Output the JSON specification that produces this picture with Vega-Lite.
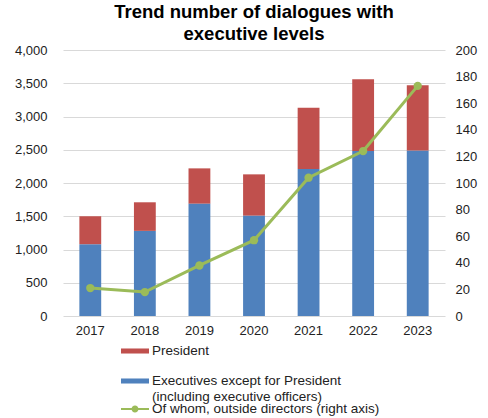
{
  "$schema": "https://vega.github.io/schema/vega-lite/v6.json",
  "autosize": {"type": "none"},
  "width": 382,
  "height": 266,
  "padding": {"left": 63, "top": 50, "right": 43, "bottom": 102},
  "background": "white",
  "title": {
    "text": ["Trend number of dialogues with", "executive levels"],
    "font": "Liberation Sans",
    "fontSize": 18.5,
    "fontWeight": "bold",
    "color": "#000000",
    "lineHeight": 21.5,
    "offset": 1,
    "anchor": "middle"
  },
  "config": {
    "view": {"stroke": null},
    "axis": {
      "labelFont": "Liberation Sans",
      "labelFontSize": 13,
      "labelColor": "#222222",
      "domain": false,
      "ticks": false,
      "title": null
    },
    "legend": {
      "labelFont": "Liberation Sans",
      "labelFontSize": 13.5,
      "labelColor": "#222222",
      "labelLimit": 400
    }
  },
  "datasets": {
    "bars": [
      {"year": "2017", "series": "Executives except for President", "value": 1080},
      {"year": "2017", "series": "President", "value": 420},
      {"year": "2018", "series": "Executives except for President", "value": 1280},
      {"year": "2018", "series": "President", "value": 430},
      {"year": "2019", "series": "Executives except for President", "value": 1690},
      {"year": "2019", "series": "President", "value": 530},
      {"year": "2020", "series": "Executives except for President", "value": 1510},
      {"year": "2020", "series": "President", "value": 620},
      {"year": "2021", "series": "Executives except for President", "value": 2210},
      {"year": "2021", "series": "President", "value": 920},
      {"year": "2022", "series": "Executives except for President", "value": 2480},
      {"year": "2022", "series": "President", "value": 1080},
      {"year": "2023", "series": "Executives except for President", "value": 2490},
      {"year": "2023", "series": "President", "value": 980}
    ],
    "line": [
      {"year": "2017", "series": "Of whom, outside directors (right axis)", "value": 21},
      {"year": "2018", "series": "Of whom, outside directors (right axis)", "value": 18},
      {"year": "2019", "series": "Of whom, outside directors (right axis)", "value": 38},
      {"year": "2020", "series": "Of whom, outside directors (right axis)", "value": 57},
      {"year": "2021", "series": "Of whom, outside directors (right axis)", "value": 104},
      {"year": "2022", "series": "Of whom, outside directors (right axis)", "value": 124},
      {"year": "2023", "series": "Of whom, outside directors (right axis)", "value": 173}
    ]
  },
  "layer": [
    {
      "data": {"name": "bars"},
      "mark": {"type": "bar"},
      "encoding": {
        "x": {
          "field": "year",
          "type": "ordinal",
          "scale": {"paddingInner": 0.6, "paddingOuter": 0.3},
          "axis": {"labelAngle": 0, "labelPadding": 8, "title": null}
        },
        "y": {
          "field": "value",
          "type": "quantitative",
          "stack": "zero",
          "scale": {"domain": [0, 4000]},
          "axis": {
            "values": [0, 500, 1000, 1500, 2000, 2500, 3000, 3500, 4000],
            "format": ",.0f",
            "grid": true,
            "gridColor": "#d9d9d9",
            "labelPadding": 16,
            "title": null
          }
        },
        "order": {"field": "series", "type": "nominal", "sort": "ascending"},
        "color": {
          "field": "series",
          "type": "nominal",
          "scale": {
            "domain": ["President", "Executives except for President"],
            "range": ["#C0504D", "#4F81BD"]
          },
          "legend": {
            "title": null,
            "orient": "none",
            "legendX": 58,
            "legendY": 287,
            "direction": "vertical",
            "padding": 0,
            "rowPadding": 9,
            "symbolType": "M-1,-0.18H1V0.18H-1Z",
            "symbolSize": 784,
            "symbolStrokeWidth": 0,
            "labelOffset": 3,
            "labelExpr": "datum.label == 'Executives except for President' ? ['Executives except for President', ' (including executive officers)'] : datum.label"
          }
        }
      }
    },
    {
      "data": {"name": "line"},
      "mark": {"type": "line", "strokeWidth": 3, "point": {"filled": true, "size": 70}},
      "encoding": {
        "x": {"field": "year", "type": "ordinal"},
        "y": {
          "field": "value",
          "type": "quantitative",
          "scale": {"domain": [0, 200]},
          "axis": {
            "orient": "right",
            "values": [0, 20, 40, 60, 80, 100, 120, 140, 160, 180, 200],
            "grid": false,
            "labelPadding": 10,
            "title": null
          }
        },
        "color": {
          "field": "series",
          "type": "nominal",
          "scale": {"domain": ["Of whom, outside directors (right axis)"], "range": ["#9BBB59"]},
          "legend": {
            "title": null,
            "orient": "none",
            "legendX": 58,
            "legendY": 345,
            "padding": 0,
            "symbolType": "M-1,-0.08H1V0.08H-1Z M0.25,0 A0.25,0.25 0 1,1 -0.25,0 A0.25,0.25 0 1,1 0.25,0Z",
            "symbolSize": 784,
            "symbolStrokeWidth": 0,
            "symbolFillColor": "#9BBB59",
            "labelOffset": 3
          }
        }
      }
    }
  ],
  "resolve": {"scale": {"y": "independent", "color": "independent"}}
}
